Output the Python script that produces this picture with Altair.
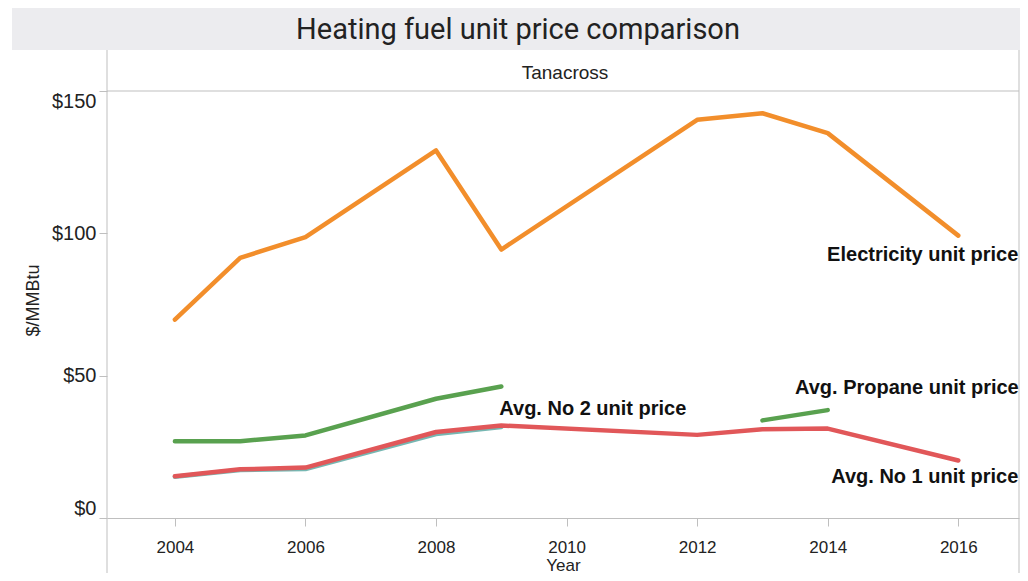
import altair as alt
import pandas as pd

# ---------------- data ----------------
title_text = "Heating fuel unit price comparison"
facet_label = "Tanacross"
x_title = "Year"
y_title = "$/MMBtu"

series_names = ["Electricity unit price", "Avg. Propane unit price",
                "Avg. No 2 unit price", "Avg. No 1 unit price"]
series_colors = ["#F28E2B", "#59A14F", "#76B7B2", "#E15759"]

elec_years = [2004, 2005, 2006, 2008, 2009, 2012, 2013, 2014, 2016]
elec_price = [69.7, 91.4, 98.7, 129.1, 94.3, 139.9, 142.2, 135.2, 99.2]

propane_years = [2004, 2005, 2006, 2008, 2009, 2010, 2011, 2012, 2013, 2014]
propane_price = [27.0, 27.0, 29.0, 41.9, 46.2, None, None, None, 34.3, 37.9]

no2_years = [2004, 2005, 2006, 2008, 2009]
no2_price = [14.5, 16.9, 17.2, 29.5, 32.0]

no1_years = [2004, 2005, 2006, 2008, 2009, 2012, 2013, 2014, 2016]
no1_price = [14.7, 17.1, 17.7, 30.2, 32.5, 29.2, 31.2, 31.4, 20.2]

x_ticks = [2004, 2006, 2008, 2010, 2012, 2014, 2016]
y_ticks = [0, 50, 100, 150]

series_data = [(elec_years, elec_price), (propane_years, propane_price),
               (no2_years, no2_price), (no1_years, no1_price)]

rows = []
for name, (yrs, vals) in zip(series_names, series_data):
    for yr, v in zip(yrs, vals):
        rows.append({"series": name, "year": yr, "price": v})
df = pd.DataFrame(rows)

# label anchors: last valid point of each series
label_rows = []
for name, (yrs, vals) in zip(series_names, series_data):
    pts = [(yr, v) for yr, v in zip(yrs, vals) if v is not None]
    label_rows.append({"series": name, "year": pts[-1][0], "price": pts[-1][1]})
labels_df = pd.DataFrame(label_rows)

# ---------------- style ----------------
FONT = "Liberation Sans"
GREY = "#BFBFBF"
TXT = "#222222"
W, H = 912, 427

x_enc = alt.X(
    "year:Q",
    scale=alt.Scale(domain=[2002.96, 2016.93], nice=False, zero=False),
    axis=alt.Axis(values=x_ticks, format="d", title=x_title, grid=False,
                  domain=True, domainColor=GREY, ticks=True, tickColor=GREY,
                  tickSize=8, labelFont=FONT, labelFontSize=17, labelColor=TXT,
                  labelPadding=13, labelFlush=False,
                  titleFont=FONT, titleFontSize=17, titleFontWeight="normal",
                  titleColor=TXT, titleX=W / 2, titleY=47,
                  titleAlign="center", titleBaseline="middle"),
)
y_enc = alt.Y(
    "price:Q",
    scale=alt.Scale(domain=[0, 150], nice=False),
    axis=alt.Axis(values=y_ticks, format="$.0f", title=y_title, grid=False,
                  domain=False, ticks=True, tickColor=GREY, tickSize=8,
                  labelFont=FONT, labelFontSize=20, labelColor=TXT,
                  labelPadding=3, labelFlush=True,
                  titleFont=FONT, titleFontSize=18, titleFontWeight="normal",
                  titleColor=TXT, titleAngle=270, titleX=-74, titleY=209,
                  titleAlign="center", titleBaseline="middle"),
)

one = pd.DataFrame({"t": [title_text]})
hdr = pd.DataFrame({"t": [facet_label]})

band = alt.Chart(one).mark_rect(color="#ECECEF").encode(
    x=alt.value(-95), x2=alt.value(913), y=alt.value(-83), y2=alt.value(-41))
title = alt.Chart(one).mark_text(font="Roboto", fontSize=29, color=TXT,
                                 align="center", baseline="middle").encode(
    x=alt.value(411), y=alt.value(-61), text="t:N")
header = alt.Chart(hdr).mark_text(font=FONT, fontSize=19, color=TXT,
                                  align="center", baseline="middle").encode(
    x=alt.value(W / 2 + 2), y=alt.value(-18), text="t:N")

rule_top = alt.Chart(one).mark_rule(color=GREY, strokeWidth=1).encode(
    x=alt.value(0), x2=alt.value(W), y=alt.value(0))
rule_left = alt.Chart(one).mark_rule(color=GREY, strokeWidth=1).encode(
    x=alt.value(0), y=alt.value(-41), y2=alt.value(H + 60))
rule_right = alt.Chart(one).mark_rule(color=GREY, strokeWidth=1).encode(
    x=alt.value(W), y=alt.value(-41), y2=alt.value(H + 60))

base = alt.Chart(df)
line_layers = []
for name, col in zip(series_names, series_colors):
    line_layers.append(
        base.transform_filter(alt.datum.series == name)
        .mark_line(color=col, strokeWidth=4.5, strokeCap="round",
                   strokeJoin="round", invalid="break-paths-show-domains")
        .encode(x=x_enc, y=y_enc)
    )

label_style = {
    "Electricity unit price": dict(align="right", dx=60, dy=19),
    "Avg. Propane unit price": dict(align="right", dx=191, dy=-22),
    "Avg. No 2 unit price": dict(align="left", dx=-2, dy=-18),
    "Avg. No 1 unit price": dict(align="right", dx=60, dy=17),
}
label_layers = []
for name in series_names:
    st = label_style[name]
    label_layers.append(
        alt.Chart(labels_df).transform_filter(alt.datum.series == name)
        .mark_text(font=FONT, fontSize=20, fontWeight="bold", color="#111111",
                   baseline="middle", **st)
        .encode(x=x_enc, y=y_enc, text="series:N")
    )

chart = alt.layer(
    band, title, header, rule_top, rule_left, rule_right,
    *line_layers, *label_layers,
).properties(
    width=W, height=H,
    autosize=alt.AutoSizeParams(type="none"),
    padding={"left": 99, "top": 83, "right": 1, "bottom": 55},
    background="white",
).configure_view(stroke=None)

chart.save("out.html", embed_options={"renderer": "svg", "actions": False})
